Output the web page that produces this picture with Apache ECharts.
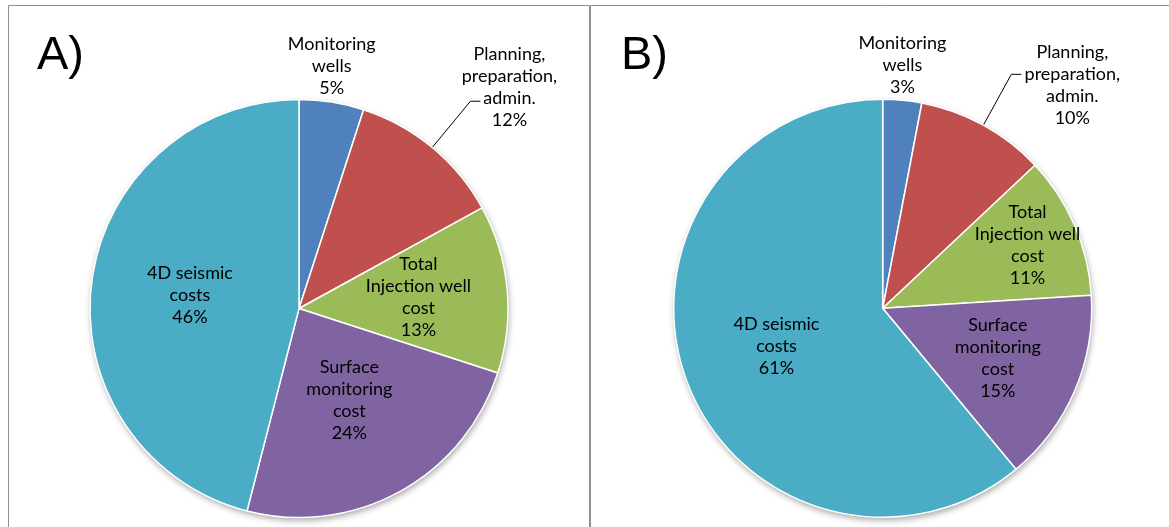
<!DOCTYPE html>
<html>
<head>
<meta charset="utf-8">
<script src="https://cdn.jsdelivr.net/npm/echarts@6/dist/echarts.min.js"></script>
<style>
  html, body { margin: 0; padding: 0; background: #fff; }
  #chart { width: 1169px; height: 527px; }
</style>
</head>
<body>
<div id="chart"></div>
<script>
// Cost categories, in clockwise order from 12 o'clock
const categories = [
  'Monitoring\nwells',
  'Planning,\npreparation,\nadmin.',
  'Total\nInjection well\ncost',
  'Surface\nmonitoring\ncost',
  '4D seismic\ncosts'
];
// Share of total cost (%) for each scenario
const shareA = [5, 12, 13, 24, 46];
const shareB = [3, 10, 11, 15, 61];
const panelTags = ['A)', 'B)'];

const sliceColors = ['#4F81BD', '#C0504D', '#9BBB59', '#8064A2', '#4BACC6'];
const R = 209;

// Per-pie label geometry: radial fraction for inside labels, leader line lengths, label offset from leader end
const pies = [
  { center: [299, 308.5], values: shareA, inner: [null, null, 0.574, 0.50, 0.526],
    leaderOut: 60, leaderFlat: 10, labelOffset: [29, -14], topGap: 3 },
  { center: [882.7, 308.3], values: shareB, inner: [null, null, 0.755, 0.60, 0.54],
    leaderOut: 58, leaderFlat: 10, labelOffset: [51, 11], topGap: 2 }
];

function midAngle(values, i) {
  const total = values.reduce((a, b) => a + b, 0);
  let before = 0;
  for (let k = 0; k < i; k++) before += values[k];
  return (before + values[i] / 2) / total * 2 * Math.PI;
}
function polar(c, ang, d) {
  return [c[0] + Math.sin(ang) * d, c[1] - Math.cos(ang) * d];
}

function makeLayout(p) {
  return function (params) {
    const i = params.dataIndex;
    const a = midAngle(p.values, i);
    if (i === 0) {
      const e = polar(p.center, a, R);
      return { x: e[0], y: e[1] - p.topGap, align: 'center', verticalAlign: 'bottom' };
    }
    if (i === 1) {
      const e = polar(p.center, a, R);
      const k = polar(p.center, a, R + p.leaderOut);
      const end = [k[0] + p.leaderFlat, k[1]];
      return {
        x: end[0] + p.labelOffset[0], y: end[1] + p.labelOffset[1],
        align: 'center', verticalAlign: 'middle',
        labelLinePoints: [e, k, end]
      };
    }
    const c = polar(p.center, a, R * p.inner[i]);
    return { x: c[0], y: c[1], align: 'center', verticalAlign: 'middle' };
  };
}

function buildData(values) {
  return values.map((v, i) => ({
    name: categories[i],
    value: v,
    itemStyle: { color: sliceColors[i] },
    label: { position: i < 2 ? 'outside' : 'inside' },
    labelLine: { show: i === 1 }
  }));
}

const labelFont = {
  show: true,
  formatter: '{b}\n{c}%',
  color: '#000',
  fontFamily: 'Lato',
  fontSize: 18,
  lineHeight: 22
};

const series = [];
pies.forEach((p) => {
  // soft drop shadow under each pie
  series.push({
    type: 'pie', silent: true, z: 1,
    center: p.center, radius: R,
    label: { show: false }, labelLine: { show: false },
    itemStyle: { color: '#fff', shadowBlur: 6, shadowColor: 'rgba(0,0,0,0.35)', shadowOffsetX: 1, shadowOffsetY: 3 },
    data: [{ value: 1 }],
    animation: false
  });
  series.push({
    type: 'pie', z: 2,
    center: p.center, radius: R,
    startAngle: 90, clockwise: true,
    avoidLabelOverlap: false,
    itemStyle: { borderColor: '#fff', borderWidth: 1.5 },
    label: labelFont,
    labelLine: { lineStyle: { color: '#000', width: 1 } },
    labelLayout: makeLayout(p),
    data: buildData(p.values),
    animation: false
  });
});

const chart = echarts.init(document.getElementById('chart'));
chart.setOption({
  backgroundColor: '#fff',
  graphic: [
    { type: 'rect', z: 0, shape: { x: 8.5, y: 5.5, width: 581, height: 560 },
      style: { fill: '#fff', stroke: '#8f8f8f', lineWidth: 1 } },
    { type: 'rect', z: 0, shape: { x: 590.5, y: 5.5, width: 620, height: 560 },
      style: { fill: '#fff', stroke: '#8f8f8f', lineWidth: 1 } },
    { type: 'text', z: 3, left: 37, top: 33,
      style: { text: panelTags[0], font: '47px "Liberation Sans", Arial, sans-serif', fill: '#000' } },
    { type: 'text', z: 3, left: 621, top: 33,
      style: { text: panelTags[1], font: '47px "Liberation Sans", Arial, sans-serif', fill: '#000' } }
  ],
  series: series
});
</script>
</body>
</html>
